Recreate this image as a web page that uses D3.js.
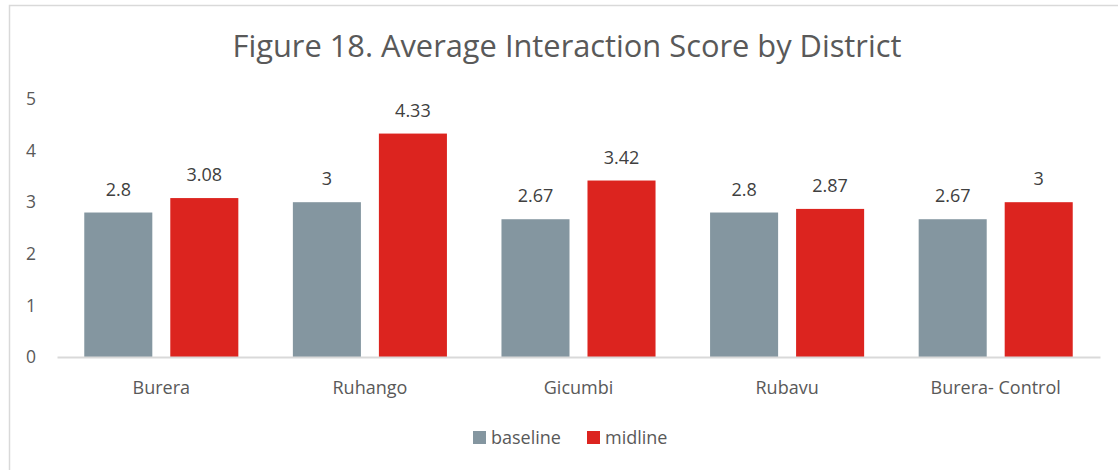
<!DOCTYPE html>
<html><head><meta charset="utf-8">
<script src="https://cdn.jsdelivr.net/npm/d3@7"></script>
<style>
body{margin:0;background:#fff;}
svg{display:block;font-family:"Open Sans",sans-serif;}
</style></head>
<body><svg id="c" width="1118" height="470"></svg>
<script>
const categories = ["Burera", "Ruhango", "Gicumbi", "Rubavu", "Burera- Control"];
const seriesNames = ["baseline", "midline"];
const baseline = [2.8, 3, 2.67, 2.8, 2.67];
const midline = [3.08, 4.33, 3.42, 2.87, 3];
const yTicks = [0, 1, 2, 3, 4, 5];
const title = "Figure 18. Average Interaction Score by District";
const colors = ["#8496A0", "#DC241F"];

const svg = d3.select("#c");
svg.append("rect").attr("x", 9.5).attr("y", 5.5).attr("width", 1120).attr("height", 480)
  .attr("fill", "#fff").attr("stroke", "#D9D9D9").attr("stroke-width", 1.5);

const pLeft = 57, pRight = 1100, pTop = 99, pBottom = 357;
const x0 = d3.scaleBand().domain(categories).range([pLeft, pRight]).paddingInner(0).paddingOuter(0);
const x1 = d3.scaleBand().domain(seriesNames).range([0, x0.bandwidth()]).paddingInner(0.209).paddingOuter(0.317);
const y = d3.scaleLinear().domain([0, 5]).range([pBottom, pTop]);

svg.append("text").attr("x", 567).attr("y", 57).attr("text-anchor", "middle")
  .attr("fill", "#595959").style("font-size", "30.8px").text(title);

// y axis labels
const yAxis = d3.axisLeft(y).tickValues(yTicks).tickSize(0).tickPadding(0).tickFormat(d3.format("d"));
const ya = svg.append("g").attr("transform", "translate(36,0)").call(yAxis);
ya.select(".domain").remove();
ya.selectAll("text").attr("fill", "#595959").style("font-size", "17.5px").style("font-family", "'Open Sans',sans-serif");

const data = categories.map((c, i) => ({c, vals: [baseline[i], midline[i]]}));
const g = svg.selectAll("g.cat").data(data).enter().append("g").attr("class", "cat")
  .attr("transform", d => `translate(${x0(d.c)},0)`);
g.selectAll("rect").data(d => d.vals.map((v, j) => ({v, s: seriesNames[j], j}))).enter().append("rect")
  .attr("x", d => x1(d.s)).attr("width", x1.bandwidth())
  .attr("y", d => y(d.v)).attr("height", d => y(0) - y(d.v))
  .attr("fill", d => colors[d.j]);
g.selectAll("text.lbl").data(d => d.vals.map((v, j) => ({v, s: seriesNames[j], j}))).enter().append("text")
  .attr("class", "lbl").attr("x", d => x1(d.s) + x1.bandwidth() / 2).attr("y", d => y(d.v) - 17)
  .attr("text-anchor", "middle").attr("fill", "#404040").style("font-size", "18px")
  .text(d => d3.format("")(d.v));

// x axis
const xAxis = d3.axisBottom(x0).tickSize(0).tickPadding(0);
const xa = svg.append("g").attr("transform", `translate(0,${pBottom})`).call(xAxis);
xa.select(".domain").attr("stroke", "#D9D9D9").attr("stroke-width", 2);
xa.selectAll("text").attr("dy", 0).attr("y", 37).attr("fill", "#595959")
  .style("font-size", "18px").style("font-family", "'Open Sans',sans-serif");

// legend
const legX = [473, 587];
const lg = svg.selectAll("g.leg").data(seriesNames).enter().append("g").attr("class", "leg")
  .attr("transform", (d, i) => `translate(${legX[i]},431)`);
lg.append("rect").attr("width", 13).attr("height", 13).attr("fill", (d, i) => colors[i]);
lg.append("text").attr("x", 18).attr("y", 13).attr("fill", "#595959").style("font-size", "18px").text(d => d);
</script></body></html>
